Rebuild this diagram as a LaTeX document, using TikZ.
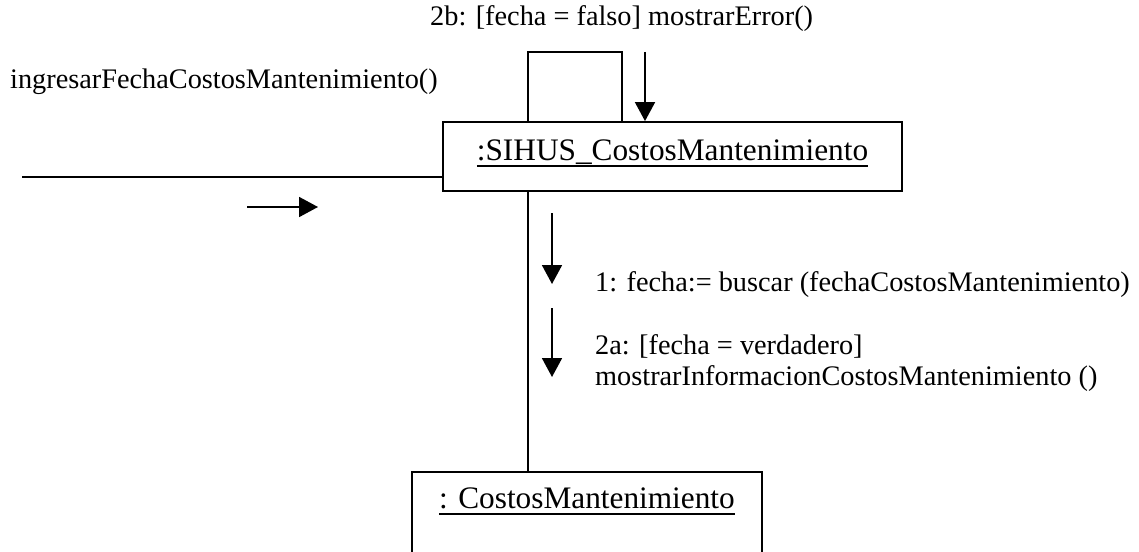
\documentclass[tikz,border=0pt]{standalone}
\usepackage{fontspec}
\setmainfont{Liberation Serif}
\usetikzlibrary{arrows.meta}
\newcommand{\undl}[1]{\setbox0\hbox{#1}\rlap{\rule[-7pt]{\wd0}{1.8pt}}\box0}
\tikzset{
  lbl/.style={anchor=base west, inner sep=0pt, font=\fontsize{28.3}{34}\selectfont},
  objbox/.style={draw, line width=1.8pt, inner sep=0pt, font=\fontsize{31.3}{37}\selectfont},
  conn/.style={line width=1.8pt},
  msg/.style={line width=1.8pt, -{Triangle[length=19pt,width=20pt]}}
}
\begin{document}
\begin{tikzpicture}[x=1pt,y=-1pt]
\useasboundingbox (0,0) rectangle (1139,551);
\clip (0,0) rectangle (1139,551);
% objects
\node[objbox, minimum width=459pt, minimum height=69pt, text height=22pt, text depth=15pt] (sihus) at (672.5,156.5) {\undl{:SIHUS\_CostosMantenimiento}};
\node[objbox, minimum width=350pt, minimum height=128pt, text height=20pt, text depth=76pt] (costos) at (587,536) {\undl{: CostosMantenimiento}};
% labels
\node[lbl] (l2b) at (430,26) {2b: [fecha = falso] mostrarError()};
\node[lbl] (lin) at (10,88) {ingresarFechaCostosMantenimiento()};
\node[lbl] (l1) at (595,291) {1: fecha:= buscar (fechaCostosMantenimiento)};
\node[lbl] (l2a) at (595,354) {2a: [fecha = verdadero]};
\node[lbl] (l2a2) at (595,385) {mostrarInformacionCostosMantenimiento ()};
% coordinates
\coordinate (inL) at (22,177);
\coordinate (loopL) at (528,52);
\coordinate (loopR) at (622,52);
\coordinate (e2b) at (645,52);
\coordinate (lk) at (528,300);
\coordinate (a0s) at (247,207);
\coordinate (a0e) at (318,207);
\coordinate (a1s) at (552,213);
\coordinate (a1e) at (552,284);
\coordinate (a2s) at (552,308);
\coordinate (a2e) at (552,377);
% links
\draw[conn] (inL) -- (inL -| sihus.west);
\draw[conn] (loopL |- sihus.north) -- (loopL) -- (loopR) -- (loopR |- sihus.north);
\draw[conn] (lk |- sihus.south) -- (lk |- costos.north);
% messages
\draw[msg] (a0s) -- (a0e);
\draw[msg] (e2b) -- (e2b |- sihus.north);
\draw[msg] (a1s) -- (a1e);
\draw[msg] (a2s) -- (a2e);
\end{tikzpicture}
\end{document}
